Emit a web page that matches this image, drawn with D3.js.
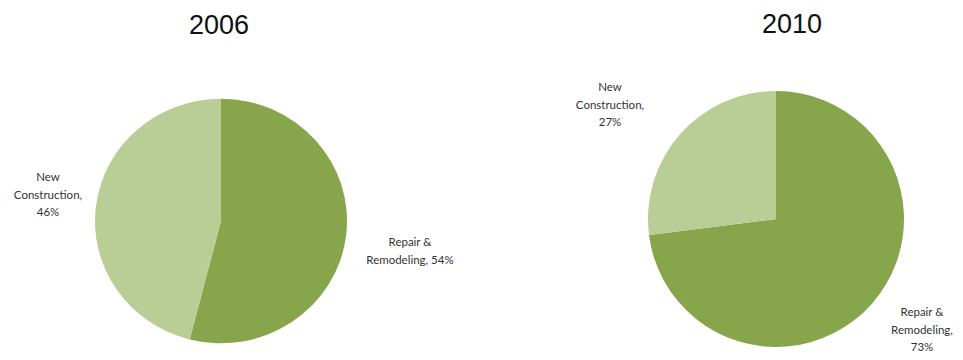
<!DOCTYPE html>
<html>
<head>
<meta charset="utf-8">
<script src="https://cdn.jsdelivr.net/npm/d3@7"></script>
<style>
  html, body { margin: 0; padding: 0; background: #fff; }
  svg { display: block; }
</style>
</head>
<body>
<svg id="chart" width="963" height="360"></svg>
<script>
// Market share by segment, two years
const years = ["2006", "2010"];
const segments = ["Repair & Remodeling", "New Construction"];
const shares2006 = [54, 46];
const shares2010 = [73, 27];
const segmentColors = ["#87a54b", "#b9cd96"];

// Label lines per pie (segment order matches "segments")
const labels2006 = [["Repair &", "Remodeling, 54%"], ["New", "Construction,", "46%"]];
const labels2010 = [["Repair &", "Remodeling,", "73%"], ["New", "Construction,", "27%"]];

const svg = d3.select("#chart");

const panels = [
  { year: years[0], values: shares2006, labels: labels2006,
    cx: 221, cy: 221, r: 126, sy: 0.97, titleX: 219, titleY: 34,
    labelPos: [[410, 246], [48, 181]] },
  { year: years[1], values: shares2010, labels: labels2010,
    cx: 776, cy: 219, r: 128, sy: 1, titleX: 792, titleY: 33,
    labelPos: [[922, 316], [610, 91]] }
];

const color = d3.scaleOrdinal().domain(segments).range(segmentColors);

panels.forEach(p => {
  const data = segments.map((s, i) => ({ segment: s, value: p.values[i] }));
  const pie = d3.pie().value(d => d.value).sort(null);
  const arc = d3.arc().innerRadius(0).outerRadius(p.r);

  const g = svg.append("g").attr("transform", `translate(${p.cx},${p.cy}) scale(1,${p.sy})`);
  g.selectAll("path")
    .data(pie(data))
    .join("path")
    .attr("d", arc)
    .attr("fill", d => color(d.data.segment));

  svg.append("text")
    .attr("x", p.titleX)
    .attr("y", p.titleY)
    .attr("text-anchor", "middle")
    .attr("font-family", "Liberation Sans, Arial, sans-serif")
    .attr("font-size", 27)
    .attr("fill", "#111")
    .text(p.year);

  p.labels.forEach((lines, i) => {
    const [lx, ly] = p.labelPos[i];
    const t = svg.append("text")
      .attr("x", lx)
      .attr("y", ly)
      .attr("text-anchor", "middle")
      .attr("font-family", "Lato, 'Open Sans', sans-serif")
      .attr("font-size", 11.5)
      .attr("fill", "#333");
    lines.forEach((line, k) => {
      t.append("tspan")
        .attr("x", lx)
        .attr("dy", k === 0 ? 0 : 17.5)
        .text(line);
    });
  });
});
</script>
</body>
</html>
